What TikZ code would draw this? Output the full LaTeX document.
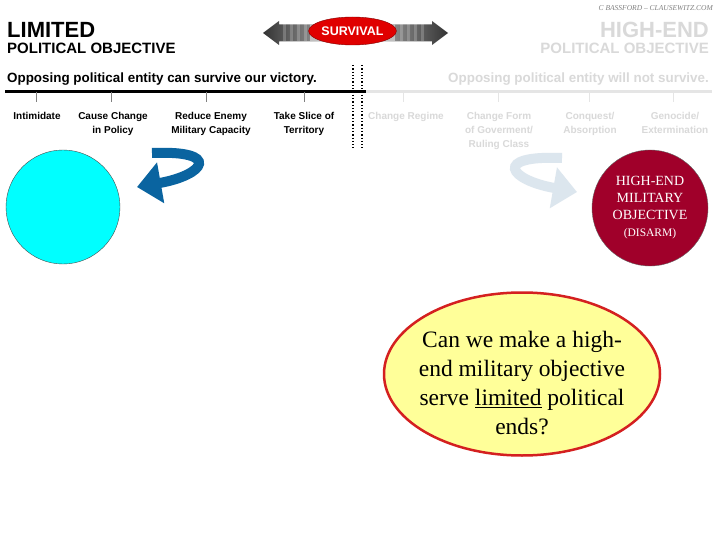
\documentclass[tikz,border=0pt]{standalone}
\usepackage{fontspec}
\setmainfont{Liberation Serif}
\newfontfamily\arialfont{Liberation Sans}
\usetikzlibrary{arrows.meta,shapes.geometric,positioning}
\definecolor{arrowblue}{HTML}{0A64A0}
\definecolor{fadeblue}{HTML}{DCE6EE}
\definecolor{disarmred}{HTML}{A0002A}
\definecolor{askyellow}{HTML}{FFFF99}
\definecolor{askred}{HTML}{D42020}
\definecolor{survred}{HTML}{E00000}
\definecolor{ballcyan}{HTML}{00FFFF}
\tikzset{
    bigtitle/.style={font=\arialfont\bfseries\fontsize{22}{26}\selectfont, inner sep=0pt},
    subtitle/.style={font=\arialfont\bfseries\fontsize{15}{18}\selectfont, inner sep=0pt},
    claim/.style={font=\arialfont\bfseries\fontsize{13.4}{16}\selectfont, inner sep=0pt},
    steplabel/.style={font=\arialfont\bfseries\fontsize{10}{14}\selectfont,
        align=center, inner sep=0pt, anchor=north},
    faded/.style={text=gray!30},
    tickline/.style={line width=1pt},
    divider/.style={dotted, line width=1.3pt},
    uturn/.pic={
        \draw[line width=10pt, -{Triangle[width=40pt,length=24pt]}]
            (-48,-17) .. controls (22,-20) and (5,5) .. (-63,17);
    },
}

\begin{document}
\begin{tikzpicture}[x=1pt,y=-1pt]
\useasboundingbox (0,0) rectangle (720,540);
\fill[white] (0,0) rectangle (720,540);

\node[font=\itshape\fontsize{7.5}{9}\selectfont, text=gray, anchor=base east, inner sep=0pt] (credit) at (713,10.5) {C BASSFORD -- CLAUSEWITZ.COM};

\node[bigtitle, anchor=base west] (limited) at (7,37.5) {LIMITED};
\node[subtitle, anchor=base west] (limpol) at (7,54) {POLITICAL OBJECTIVE};
\node[claim, anchor=base west] (limclaim) at (7,83) {Opposing political entity can survive our victory.};
\node[bigtitle, faded, anchor=base east] (highend) at (709,37.5) {HIGH-END};
\node[subtitle, faded, anchor=base east] (highpol) at (709,54) {POLITICAL OBJECTIVE};
\node[claim, faded, anchor=base east] (highclaim) at (709,83) {Opposing political entity will not survive.};

% survival double arrow
\shade[left color=black!80, right color=black!35] (263,33) -- (279,21) -- (279,24.5) -- (330,24.5)
    -- (330,41.5) -- (279,41.5) -- (279,45) -- cycle;
\shade[left color=black!35, right color=black!80] (448,33) -- (432,21) -- (432,24.5) -- (375,24.5)
    -- (375,41.5) -- (432,41.5) -- (432,45) -- cycle;
\foreach \x in {283,290,...,304} \fill[white, opacity=.2] (\x,24.5) rectangle (\x+2.5,41.5);
\foreach \x in {400,407,...,421} \fill[white, opacity=.2] (\x,24.5) rectangle (\x+2.5,41.5);
\fill[black!25] (310,24.5) rectangle (320,41.5);
\fill[black!25] (385,24.5) rectangle (395,41.5);
\node[ellipse, fill=survred, draw=red!50!black, minimum width=72pt, minimum height=28pt, inner sep=0pt,
    font=\arialfont\bfseries\fontsize{12.5}{14}\selectfont, text=white] (survival) at (352.5,31) {SURVIVAL};

% scale
\draw[line width=3pt] (5,92) -- (357,92);
\draw[line width=3pt, gray!20] (366,92) -- (712,92);
\draw[line width=3pt] (357,92) -- (366,92);
\foreach \x in {36,111,206,304} \draw[tickline, gray] (\x,92) -- (\x,102);
\foreach \x in {403,498,589,673} \draw[tickline, gray!20] (\x,92) -- (\x,102);
\draw[divider] (353,65) -- (353,148);
\draw[divider] (362,65) -- (362,148);

\node[steplabel] (intimidate) at (37,112.5) {Intimidate};
\node[steplabel] (policy) at (113,112.5) {Cause Change\\in Policy};
\node[steplabel] (capacity) at (211,112.5) {Reduce Enemy\\Military Capacity};
\node[steplabel] (territory) at (304,112.5) {Take Slice of\\Territory};
\node[steplabel, faded] (regime) at (406,112.5) {Change Regime};
\node[steplabel, faded] (government) at (499,112.5) {Change Form\\of Goverment/\\Ruling Class};
\node[steplabel, faded] (conquest) at (590,112.5) {Conquest/\\Absorption};
\node[steplabel, faded] (genocide) at (675,112.5) {Genocide/\\Extermination};

\pic[color=arrowblue] at (200,170) {uturn};
\pic[color=fadeblue, xscale=-1] at (514,175) {uturn};

\node[circle, draw=black!70, fill=ballcyan, minimum size=114pt, inner sep=0pt] (cyanball) at (63,207) {};
\node[circle, draw=black!60, fill=disarmred, minimum size=116pt, inner sep=0pt, text=white, align=center,
    font=\fontsize{14}{17}\selectfont] (disarm) at (650,208)
    {HIGH-END\\MILITARY\\OBJECTIVE\\{\fontsize{11.5}{15}\selectfont(DISARM)}};

\node[ellipse, draw=askred, line width=2.5pt, fill=askyellow, minimum width=276pt, minimum height=163pt] (askoval) at (522,374) {};
\node[align=center, font=\fontsize{23.5}{28.7}\selectfont] (askline) at (522,383)
    {Can we make a high-\\end military objective\\serve \underline{limited} political\\ends?};
\end{tikzpicture}
\end{document}
